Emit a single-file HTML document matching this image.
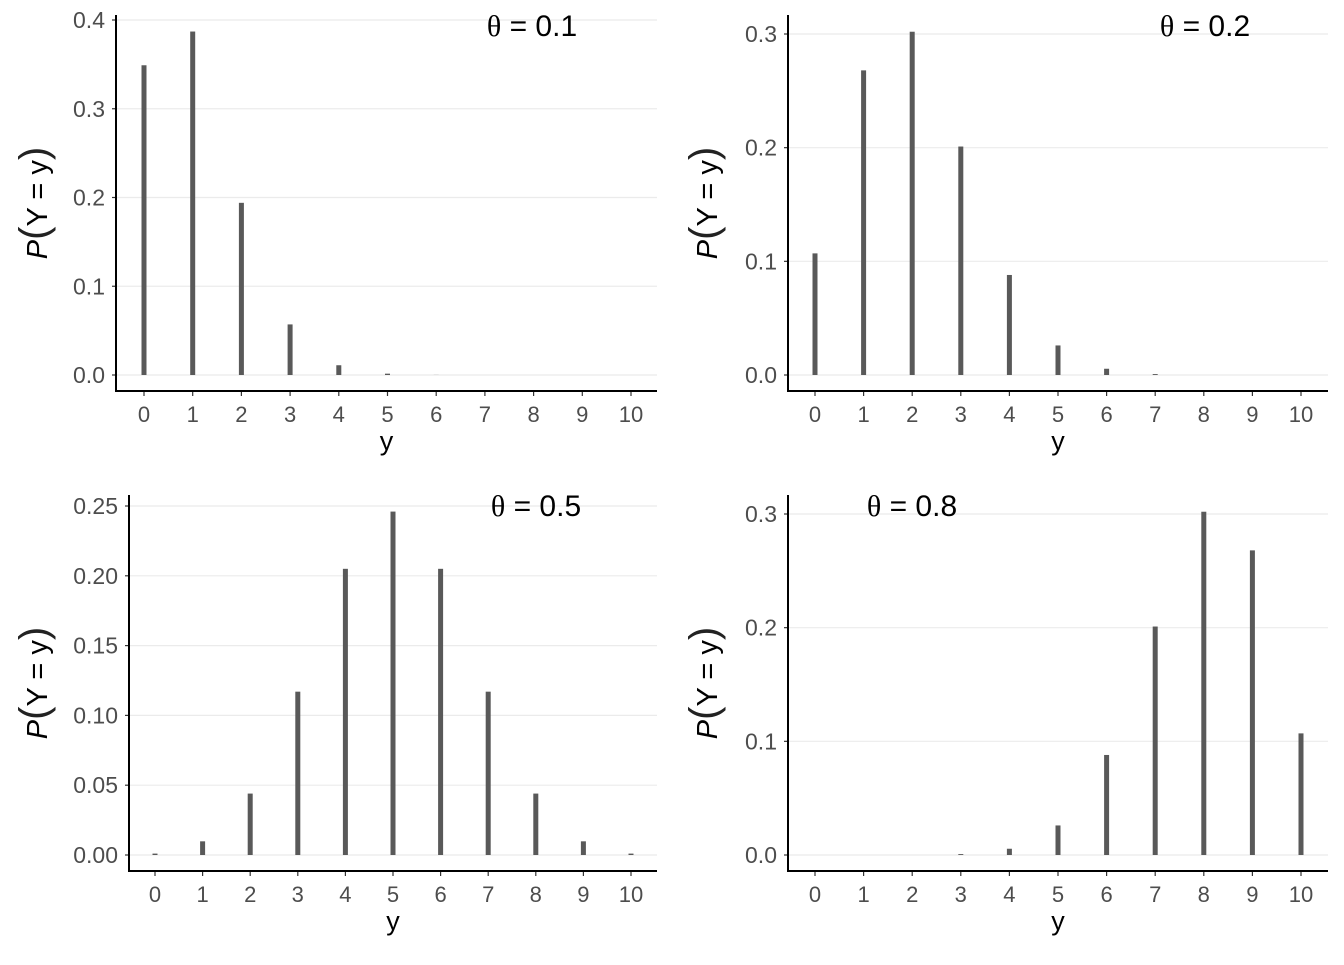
<!DOCTYPE html>
<html><head><meta charset="utf-8"><style>
body{margin:0;background:#fff;width:1344px;height:960px;overflow:hidden}
svg{font-family:"Liberation Sans",sans-serif}
</style></head><body>
<svg id="c" width="1344" height="960"></svg>
<script>
const categories=[0,1,2,3,4,5,6,7,8,9,10];
const probs01=[0.349,0.387,0.194,0.057,0.011,0.0015,0.0001,0,0,0,0];
const probs02=[0.107,0.268,0.302,0.201,0.088,0.026,0.0055,0.0008,0,0,0];
const probs05=[0.001,0.0098,0.044,0.117,0.205,0.246,0.205,0.117,0.044,0.0098,0.001];
const probs08=[0,0,0,0.0008,0.0055,0.026,0.088,0.201,0.302,0.268,0.107];
const ticks01=["0.0","0.1","0.2","0.3","0.4"];
const ticks02=["0.0","0.1","0.2","0.3"];
const ticks05=["0.00","0.05","0.10","0.15","0.20","0.25"];
const labels=["θ = 0.1","θ = 0.2","θ = 0.5","θ = 0.8"];
const NS="http://www.w3.org/2000/svg";
const svg=document.getElementById('c');
function el(tag,attrs,parent){const e=document.createElementNS(NS,tag);for(const k in attrs)e.setAttribute(k,attrs[k]);parent.appendChild(e);return e;}
const panels=[
 {vals:probs01,ticks:ticks01,ax:116,top:15,bot:391,right:657,y0:375,ymax:0.4,ytop:20,x0:144,x10:631,lab:labels[0],lx:532,ly:36},
 {vals:probs02,ticks:ticks02,ax:788,top:15,bot:391,right:1328,y0:375,ymax:0.3,ytop:34,x0:815,x10:1301,lab:labels[1],lx:1205,ly:36},
 {vals:probs05,ticks:ticks05,ax:129,top:495,bot:871,right:657,y0:855,ymax:0.25,ytop:506,x0:155,x10:631,lab:labels[2],lx:536,ly:516},
 {vals:probs08,ticks:ticks02,ax:788,top:495,bot:871,right:1328,y0:855,ymax:0.3,ytop:514,x0:815,x10:1301,lab:labels[3],lx:912,ly:516}
];
panels.forEach((p,i)=>{
 const g=el('g',{},svg);
 
 
 const ys=v=>p.y0-(v/p.ymax)*(p.y0-p.ytop);
 const xs=c=>p.x0+(c/10)*(p.x10-p.x0);
 p.ticks.forEach(t=>{
  const y=ys(parseFloat(t));
  const gl=el('line',{x1:p.ax,x2:p.right,y1:y,y2:y,stroke:'#ebebeb','stroke-width':1.2},g);
  
  
  el('line',{x1:p.ax-4,x2:p.ax,y1:y,y2:y,stroke:'#333','stroke-width':1.2},g);
  const tx=el('text',{x:p.ax-11,y:y+8,'text-anchor':'end',style:'font-size:23px',fill:'#4d4d4d'},g);
  tx.textContent=t;
  
  
 });
 categories.forEach((c,j)=>{
  const x=xs(c);
  const v=p.vals[j];
  const b=el('rect',{x:x-2.5,width:5,y:ys(v),height:Math.max(0,p.y0-ys(v)),fill:'#595959'},g);
  
  
  el('line',{x1:x,x2:x,y1:p.bot,y2:p.bot+5,stroke:'#333','stroke-width':1.2},g);
  const tx=el('text',{x:x,y:p.bot+31,'text-anchor':'middle',style:'font-size:22px',fill:'#4d4d4d'},g);
  tx.textContent=c;
  
  
 });
 const ya=el('line',{x1:p.ax,x2:p.ax,y1:p.top,y2:p.bot+1,stroke:'#000','stroke-width':2},g);
 
 
 const xa=el('line',{x1:p.ax-1,x2:p.right,y1:p.bot,y2:p.bot,stroke:'#000','stroke-width':2},g);
 
 
 const xt=el('text',{x:(p.ax+p.right)/2,y:p.bot+59,'text-anchor':'middle',style:'font-size:27px'},g);
 xt.textContent='y';
 
 
 const cy=(p.top+p.bot)/2;
 const tx0=p.ax>700?717:47;
 const yt=el('text',{x:0,y:0,'text-anchor':'middle',style:'font-size:29px',transform:`translate(${tx0},${cy}) rotate(-90)`},g);
 yt.innerHTML='<tspan font-style="italic">P</tspan><tspan style="font-size:40px;font-weight:100" fill="#222">(</tspan>Y = y<tspan style="font-size:40px;font-weight:100" fill="#222">)</tspan>';
 
 
 const lt=el('text',{x:p.lx,y:p.ly,'text-anchor':'middle',style:'font-size:30px'},g);
 lt.innerHTML='<tspan font-family="Liberation Serif, serif">θ</tspan> = '+p.lab.split('= ')[1];
 
 
});
</script>
</body></html>
